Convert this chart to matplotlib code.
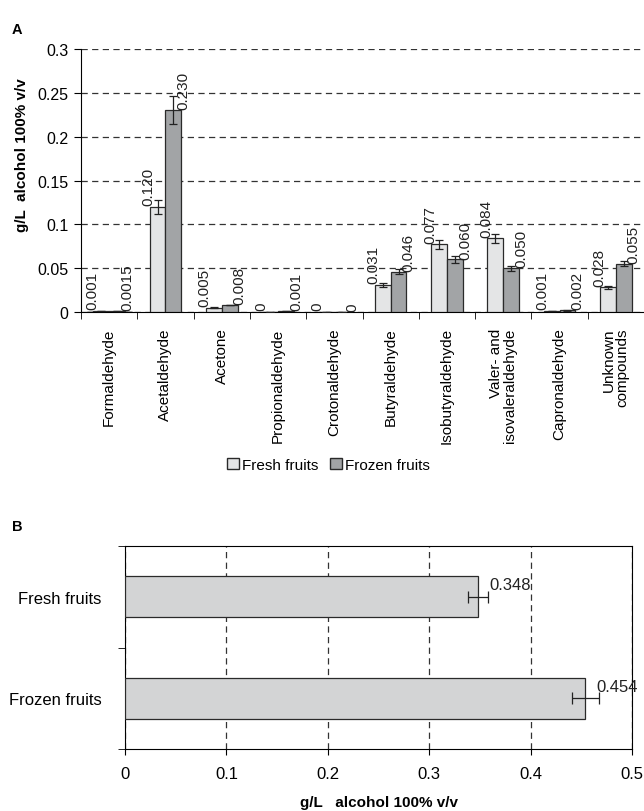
import numpy as np
import matplotlib
matplotlib.use("Agg")
from matplotlib import pyplot as plt

plt.rcParams['font.family'] = ['Liberation Sans', 'DejaVu Sans']

# panel A data
compounds = ["Formaldehyde", "Acetaldehyde", "Acetone", "Propionaldehyde",
             "Crotonaldehyde", "Butyraldehyde", "Isobutyraldehyde",
             "Valer- and\nisovaleraldehyde", "Capronaldehyde", "Unknown\ncompounds"]
fresh = [0.001, 0.120, 0.005, 0, 0, 0.031, 0.077, 0.084, 0.001, 0.028]
frozen = [0.0015, 0.230, 0.008, 0.001, 0, 0.046, 0.060, 0.050, 0.002, 0.055]
fresh_err = [0, 0.008, 0.0005, 0, 0, 0.002, 0.005, 0.005, 0, 0.0015]
frozen_err = [0, 0.016, 0.0005, 0, 0, 0.003, 0.004, 0.003, 0.0005, 0.003]
fresh_txt = ["0.001", "0.120", "0.005", "0", "0", "0.031", "0.077", "0.084", "0.001", "0.028"]
frozen_txt = ["0.0015", "0.230", "0.008", "0.001", "0", "0.046", "0.060", "0.050", "0.002", "0.055"]

# panel B data
groups = ["Frozen fruits", "Fresh fruits"]
totals = [0.454, 0.348]
totals_err = [0.013, 0.010]

c_fresh = "#e4e5e6"
c_frozen = "#a2a4a6"
c_edge = "#2a2a2a"

fig = plt.figure(figsize=(6.44, 8.12), dpi=100)

# ---- A ----
ax = fig.add_axes([81/644, 1-313/812, 563/644, 263/812])
x = np.arange(len(compounds))
w = 0.28
ax.bar(x - w/2, fresh, w, color=c_fresh, edgecolor=c_edge, linewidth=0.9, zorder=3)
ax.bar(x + w/2, frozen, w, color=c_frozen, edgecolor=c_edge, linewidth=0.9, zorder=3)
ax.errorbar(x - w/2, fresh, yerr=fresh_err, fmt='none', ecolor='#222222',
            elinewidth=0.9, capsize=3, capthick=0.9, zorder=4)
ax.errorbar(x + w/2, frozen, yerr=frozen_err, fmt='none', ecolor='#222222',
            elinewidth=0.9, capsize=3, capthick=0.9, zorder=4)
for i in range(len(compounds)):
    ax.text(x[i] - w/2 - 0.16, fresh[i] + 0.002, fresh_txt[i], rotation=90,
            ha='center', va='bottom', fontsize=11, color='#222222', zorder=5)
    ax.text(x[i] + w/2 + 0.18, frozen[i] + 0.001, frozen_txt[i], rotation=90,
            ha='center', va='bottom', fontsize=11, color='#222222', zorder=5)

ax.set_xlim(-0.5, len(compounds) - 0.5)
ax.set_ylim(0, 0.3)
ax.set_yticks(np.arange(0, 0.31, 0.05))
ax.set_yticklabels(["0", "0.05", "0.1", "0.15", "0.2", "0.25", "0.3"], fontsize=11.5)
ax.set_xticks(x)
ax.set_xticklabels(compounds, rotation=90, fontsize=11, va='top', ha='center',
                   multialignment='right', linespacing=1.0)
ax.set_xticks(np.arange(-0.5, len(compounds)), minor=True)
ax.tick_params(axis='x', which='major', length=0, pad=11)
ax.tick_params(axis='x', which='minor', length=5, direction='out')
ax.tick_params(axis='y', length=5, direction='out', pad=4)
ax.yaxis.grid(True, linestyle=(0, (5, 3.5)), color='#333333', linewidth=0.9)
ax.set_axisbelow(True)
for s in ['top', 'right']:
    ax.spines[s].set_visible(False)
ax.set_ylabel("g/L  alcohol 100% v/v", fontsize=11, fontweight='bold')
ax.yaxis.set_label_coords(-0.092, 0.6)

ax.bar([0], [0], color=c_fresh, edgecolor=c_edge, label="Fresh fruits")
ax.bar([0], [0], color=c_frozen, edgecolor=c_edge, label="Frozen fruits")
fig.legend(loc='center', bbox_to_anchor=(0.51, 1-466/812), ncol=2, frameon=False,
           fontsize=11, handlelength=0.75, handleheight=0.75, handletextpad=0.2,
           columnspacing=0.8)

fig.text(12/644, 1-30/812, "A", fontsize=10.5, fontweight='bold', va='center')

# ---- B ----
bx = fig.add_axes([125/644, 1-750/812, 507/644, 203/812])
y = np.arange(len(groups))
bx.barh(y, totals, 0.4, color="#d3d4d5", edgecolor=c_edge, linewidth=0.9, zorder=3)
bx.errorbar(totals, y, xerr=totals_err, fmt='none', ecolor='#222222',
            elinewidth=0.9, capsize=4, capthick=0.9, zorder=4)
for i in range(len(groups)):
    bx.text(totals[i] + 0.011, y[i] + 0.12, "%.3f" % totals[i], ha='left',
            va='center', fontsize=12, color='#222222', zorder=5)
bx.set_xlim(0, 0.5)
bx.set_ylim(-0.5, len(groups) - 0.5)
bx.set_xticks(np.arange(0, 0.51, 0.1))
bx.set_xticklabels(["0", "0.1", "0.2", "0.3", "0.4", "0.5"], fontsize=12)
bx.set_yticks(y)
bx.set_yticklabels(groups, fontsize=12)
bx.set_yticks(np.arange(-0.5, len(groups)), minor=True)
bx.tick_params(axis='y', which='major', length=0, pad=17)
bx.tick_params(axis='y', which='minor', length=5, direction='out')
bx.tick_params(axis='x', length=4, direction='out', pad=8)
bx.xaxis.grid(True, linestyle=(0, (5, 3.5)), color='#333333', linewidth=0.9)
bx.set_axisbelow(True)
bx.set_xlabel("g/L   alcohol 100% v/v", fontsize=11, fontweight='bold', labelpad=10)

fig.text(12/644, 1-527/812, "B", fontsize=10.5, fontweight='bold', va='center')

fig.savefig("out.png", dpi=100)
